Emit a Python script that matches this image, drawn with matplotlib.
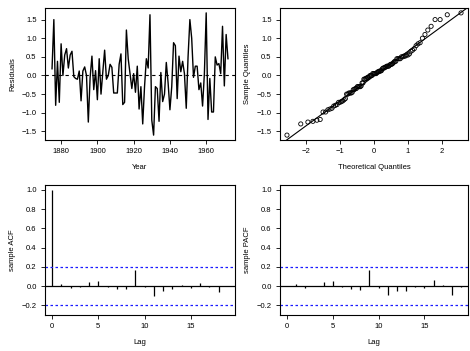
from statistics import NormalDist
import matplotlib
matplotlib.use("Agg")
import matplotlib.pyplot as plt
import numpy as np

plt.rcParams["font.family"] = ["Liberation Sans", "DejaVu Sans"]
plt.rcParams["font.size"] = 5.5

# residuals, one per year 1875-1972
years = np.arange(1875, 1973)
residuals = [
    0.18, 1.50, -0.80, 0.38, -0.72, 0.85, 0.00, 0.55, 0.72, 0.20,
    0.55, 0.65, -0.03, -0.08, -0.10, 0.12, -0.68, 0.12, 0.23, 0.00,
    -1.25, -0.05, 0.52, -0.38, 0.13, -0.65, 0.45, -0.50, 0.10, 0.68,
    -0.10, 0.00, 0.30, 0.22, -0.47, -0.47, -0.47, 0.30, 0.58, -0.78,
    -0.72, 1.22, 0.45, 0.05, -0.35, 0.05, -0.45, 0.25, -0.90, -0.30,
    -1.30, -0.30, 0.45, 0.20, 1.63, -1.20, -1.60, -0.30, -0.35, -1.23,
    0.08, -0.70, -0.50, 0.35, -0.20, -0.92, -0.30, 0.88, 0.80, -0.62,
    0.52, 0.10, 0.38, 0.05, -0.88, 0.50, 1.50, 1.00, -0.05, 0.25,
    0.25, -0.38, -0.20, -0.82, 0.05, 1.68, -1.18, -0.08, -0.98, -0.98,
    0.50, 0.28, 0.32, 0.05, 1.32, -0.28, 1.10, 0.45,
]

acf_lags = np.arange(0, 20)
acf_values = [
    1.0, 0.024, -0.02, -0.005, 0.045, 0.058, -0.007, -0.028, -0.035, 0.17,
    -0.01, -0.10, -0.055, -0.035, 0.01, -0.02, 0.035, -0.005, -0.065, -0.003,
]
pacf_lags = np.arange(1, 20)
pacf_values = [
    0.024, -0.02, 0.0, 0.045, 0.058, -0.007, -0.03, -0.04, 0.17,
    -0.02, -0.09, -0.055, -0.05, -0.01, -0.02, 0.065, 0.015, -0.095, -0.005,
]
conf_bound = 0.198

W, H = 470, 351


def make_axes(fig, left, top, right, bottom):
    ax = fig.add_axes([left / W, 1 - bottom / H, (right - left) / W, (bottom - top) / H])
    ax.tick_params(direction="out", length=3, width=0.6, pad=3)
    for s in ax.spines.values():
        s.set_linewidth(0.8)
    return ax


def r_limits(lo, hi):
    pad = (hi - lo) * 0.04
    return lo - pad, hi + pad


def minus(ticks):
    return [f"{t:.1f}".replace("-", "\u2212") for t in ticks]


fig = plt.figure(figsize=(W / 100, H / 100), dpi=100)

res = np.array(residuals)
ylim_res = r_limits(res.min(), res.max())
res_ticks = [-1.5, -1.0, -0.5, 0.0, 0.5, 1.0, 1.5]

# residual time series
ax1 = make_axes(fig, 45, 8, 235, 140)
ax1.plot(years, res, color="black", lw=1.0)
ax1.axhline(0, color="black", lw=0.8, ls=(0, (3, 3)))
ax1.set_xlim(r_limits(years[0], years[-1]))
ax1.set_ylim(ylim_res)
ax1.set_xticks([1880, 1900, 1920, 1940, 1960])
ax1.set_yticks(res_ticks)
ax1.set_yticklabels(minus(res_ticks))
ax1.set_xlabel("Year", labelpad=6)
ax1.set_ylabel("Residuals", labelpad=4)

# normal QQ plot
n = len(res)
theo = np.array([NormalDist().inv_cdf((i - 0.5) / n) for i in range(1, n + 1)])
samp = np.sort(res)
q_y = np.quantile(res, [0.25, 0.75])
q_x = np.array([NormalDist().inv_cdf(0.25), NormalDist().inv_cdf(0.75)])
slope = (q_y[1] - q_y[0]) / (q_x[1] - q_x[0])
intercept = q_y[0] - slope * q_x[0]

ax2 = make_axes(fig, 280, 8, 468, 140)
ax2.scatter(theo, samp, s=9, facecolors="none", edgecolors="black", linewidths=0.6)
xl = r_limits(theo.min(), theo.max())
ax2.plot(xl, [intercept + slope * x for x in xl], color="black", lw=0.8)
ax2.set_xlim(xl)
ax2.set_ylim(ylim_res)
ax2.set_xticks([-2, -1, 0, 1, 2])
ax2.set_xticklabels(["\u22122", "\u22121", "0", "1", "2"])
ax2.set_yticks(res_ticks)
ax2.set_yticklabels(minus(res_ticks))
ax2.set_xlabel("Theoretical Quantiles", labelpad=6)
ax2.set_ylabel("Sample Quantiles", labelpad=4)

cor_ticks = [-0.2, 0.0, 0.2, 0.4, 0.6, 0.8, 1.0]


def corr_panel(ax, lags, vals, label):
    ax.vlines(lags, 0, vals, color="black", lw=0.9)
    ax.axhline(0, color="black", lw=0.9)
    for b in (conf_bound, -conf_bound):
        ax.axhline(b, color="#1a1aff", lw=0.9, ls=(0, (2, 2)))
    ax.set_xlim(r_limits(0, 19))
    ax.set_ylim(-0.3, 1.05)
    ax.set_xticks([0, 5, 10, 15])
    ax.set_yticks(cor_ticks)
    ax.set_yticklabels(minus(cor_ticks))
    ax.set_xlabel("Lag", labelpad=6)
    ax.set_ylabel(label, labelpad=4)


ax3 = make_axes(fig, 45, 185, 235, 315)
corr_panel(ax3, acf_lags, acf_values, "sample ACF")

ax4 = make_axes(fig, 280, 185, 468, 315)
corr_panel(ax4, pacf_lags, pacf_values, "sample PACF")

fig.savefig("out.png", dpi=100)
